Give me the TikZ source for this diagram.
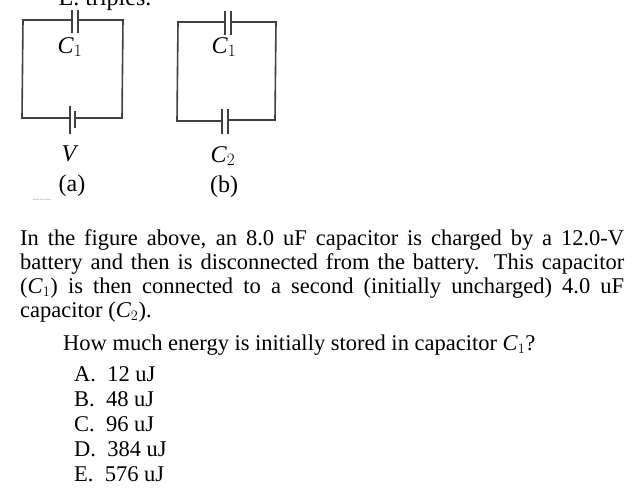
\documentclass[tikz,border=0pt]{standalone}
\usepackage{fontspec}
\setmainfont{Liberation Serif}
\begin{document}
\begin{tikzpicture}[x=1pt,y=-1pt,
  wire/.style={line width=1.6pt,color=black!75},
  plate/.style={line width=1.6pt,color=black!75},
  lbl/.style={font=\fontsize{24}{26}\selectfont},
  ln/.style={anchor=base west,inner sep=0pt,font=\fontsize{22.5}{24}\selectfont}]
\useasboundingbox (0,0) rectangle (641,496);
\begin{scope}
\clip (0,0) rectangle (641,496);
\node[lbl,anchor=base] (top) at (105,5) {E. triples.};
\end{scope}
% circuit a
\coordinate (a1) at (23,20); \coordinate (a2) at (123,20);
\coordinate (a3) at (122,118); \coordinate (a4) at (22,118);
\draw[wire] (72,20) -- (a1) -- (a4) -- (70,118);
\draw[wire] (78,20) -- (a2) -- (a3) -- (75,118);
\draw[plate] (72,10) -- (72,33); \draw[plate] (78,10) -- (78,33);
\draw[plate] (70,106) -- (70,134); \draw[plate] (75,111) -- (75,128);
\node[lbl] (c1a) at (70,47) {\textit{C}$_1$};
\node[lbl] (va) at (70,154) {\textit{V}};
\node[lbl] (la) at (72,186) {(a)};
\node[font=\fontsize{2}{2}\selectfont,color=black!60] (tiny) at (42,200) {Physics Serway Jewett};
% circuit b
\draw[wire] (225,22) -- (178,22) -- (177,121) -- (222,121);
\draw[wire] (231,22) -- (276,22) -- (275,120) -- (228,120);
\draw[plate] (225,11) -- (225,35); \draw[plate] (231,11) -- (231,35);
\draw[plate] (222,109) -- (222,134); \draw[plate] (228,109) -- (228,134);
\node[lbl] (c1b) at (224,47) {\textit{C}$_1$};
\node[lbl] (c2b) at (223,156) {\textit{C}$_2$};
\node[lbl] (lb) at (224,187) {(b)};
% text
\node[ln] (l1) at (20,245) {\makebox[604pt][s]{In the figure above, an 8.0 uF capacitor is charged by a 12.0-V}};
\node[ln] (l2) at (20,269) {\makebox[604pt][s]{battery and then is disconnected from the battery. This capacitor}};
\node[ln] (l3) at (20,293) {\makebox[604pt][s]{(\textit{C}$_1$) is then connected to a second (initially uncharged) 4.0 uF}};
\node[ln] (l4) at (20,317) {capacitor (\textit{C}$_2$).};
\node[ln] (q) at (63,350) {How much energy is initially stored in capacitor \textit{C}$_1$?};
\node[ln] (oA) at (74,381) {A.\ \ 12 uJ};
\node[ln] (oB) at (74,406) {B.\ \ 48 uJ};
\node[ln] (oC) at (74,431) {C.\ \ 96 uJ};
\node[ln] (oD) at (74,456) {D.\ \ 384 uJ};
\node[ln] (oE) at (74,481) {E.\ \ 576 uJ};
\end{tikzpicture}
\end{document}
